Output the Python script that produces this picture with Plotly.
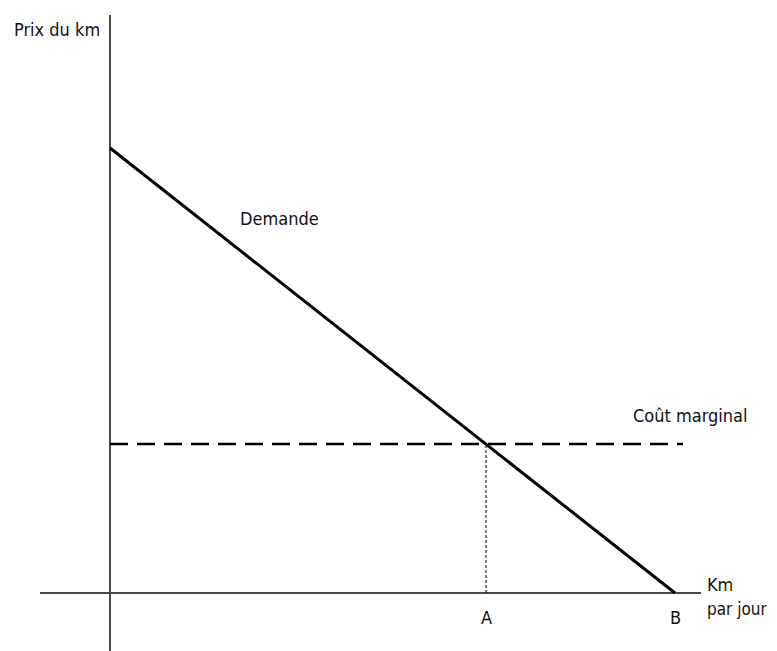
import plotly.graph_objects as go

# Economic diagram values (arbitrary units)
demand_q = [0, 565]          # quantity: 0 and B
demand_p = [445, 0]          # price intercept and 0
mc_level = 149               # marginal cost
q_a = 376                    # quantity A
q_b = 565                    # quantity B
x_axis_span = [-70, 591]
y_axis_span = [-60, 578]
mc_span = [0, 573]

FONT = "DejaVu Sans Condensed, Liberation Sans Narrow, Open Sans, sans-serif"

fig = go.Figure()
# axes
fig.add_trace(go.Scatter(x=x_axis_span, y=[0, 0], mode="lines",
                         line=dict(color="#4a4a4a", width=2), hoverinfo="skip"))
fig.add_trace(go.Scatter(x=[0, 0], y=y_axis_span, mode="lines",
                         line=dict(color="#4a4a4a", width=2), hoverinfo="skip"))
# marginal cost dashed
fig.add_trace(go.Scatter(x=mc_span, y=[mc_level, mc_level], mode="lines",
                         line=dict(color="black", width=2.5, dash="18px,9px"), hoverinfo="skip"))
# dotted vertical at A
fig.add_trace(go.Scatter(x=[q_a, q_a], y=[0, mc_level], mode="lines",
                         line=dict(color="black", width=1, dash="3px,2px"), hoverinfo="skip"))
# demand
fig.add_trace(go.Scatter(x=demand_q, y=demand_p, mode="lines",
                         line=dict(color="black", width=3), hoverinfo="skip"))

def label(x, y, text, xanchor="left", size=18):
    fig.add_annotation(x=x, y=y, text=text, showarrow=False, xanchor=xanchor,
                       yanchor="middle", font=dict(family=FONT, size=size, color="#111111"))

label(-98, 564, "Prix du km")
label(128, 375, "Demande")
label(521, 178, "Coût marginal")
label(595, 9, "Km")
label(595, -16, "par jour", size=17)
label(q_a, -24, "A", "center")
label(q_b, -24, "B", "center")

fig.update_layout(
    width=769, height=643, margin=dict(l=0, r=0, t=0, b=0),
    paper_bgcolor="white", plot_bgcolor="white", showlegend=False,
    xaxis=dict(range=[-102, 667], visible=False, fixedrange=True),
    yaxis=dict(range=[-58, 585], visible=False, fixedrange=True),
)
fig.write_html("out.html")
